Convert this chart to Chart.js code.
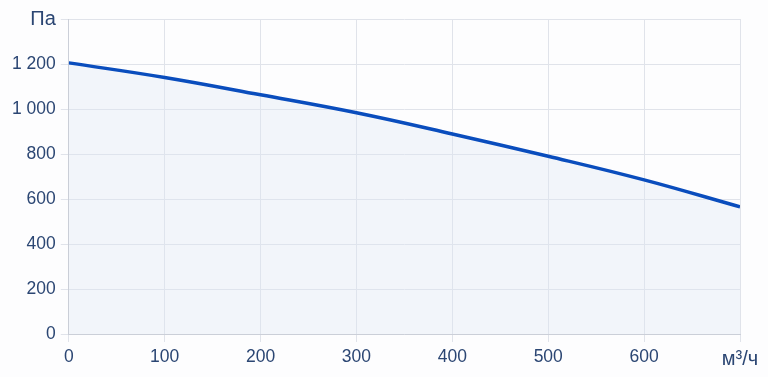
<!DOCTYPE html>
<html>
<head>
<meta charset="utf-8">
<script src="https://cdn.jsdelivr.net/npm/chart.js@4.4.1/dist/chart.umd.min.js"></script>
<style>
  html, body { margin: 0; padding: 0; background: #fdfdfe; }
  #wrap { width: 768px; height: 377px; }
</style>
</head>
<body>
<div id="wrap"><canvas id="fanChart"></canvas></div>
<script>
// Airflow (m3/h) vs pressure (Pa)
const flow = [0, 100, 200, 300, 400, 500, 600, 700];
const pressure = [1205, 1140, 1063, 983, 889, 790, 685, 565];
const xUnit = "м³/ч";
const yUnit = "Па";
const xMax = 700;
const yMax = 1400;

const textColor = "#2b4673";
const gridColor = "#e0e3ea";
const family = "Liberation Sans, Arial, sans-serif";

// "1 200" style numbers
function fmt(v) {
  return String(v).replace(/\B(?=(\d{3})+(?!\d))/g, " ");
}

// unit label sits on the last tick and is drawn a bit bigger
function tickFont(max) {
  return ctx => ({ family: family, size: ctx.tick && ctx.tick.value === max ? 20 : 17.5 });
}

const points = flow.map((f, i) => ({ x: f, y: pressure[i] }));

new Chart(document.getElementById("fanChart"), {
  type: "line",
  data: {
    datasets: [{
      data: points,
      borderColor: "#0a4dbd",
      borderWidth: 3.5,
      backgroundColor: "rgba(222, 230, 244, 0.35)",
      fill: "origin",
      pointRadius: 0,
      tension: 0.4
    }]
  },
  options: {
    responsive: true,
    maintainAspectRatio: false,
    animation: false,
    layout: { padding: { top: 19, right: 28, bottom: 1, left: 7 } },
    plugins: { legend: { display: false }, tooltip: { enabled: false } },
    scales: {
      x: {
        type: "linear",
        min: 0,
        max: xMax,
        ticks: {
          stepSize: 100,
          color: textColor,
          font: tickFont(xMax),
          padding: 5,
          maxRotation: 0,
          callback: v => v === xMax ? xUnit : fmt(v)
        },
        grid: { color: gridColor, tickLength: 8 },
        border: { color: "#cbcfd8" }
      },
      y: {
        min: 0,
        max: yMax,
        ticks: {
          stepSize: 200,
          color: textColor,
          font: tickFont(yMax),
          padding: 5,
          callback: v => v === yMax ? yUnit : fmt(v)
        },
        grid: { color: gridColor, tickLength: 8 },
        border: { color: "#cbcfd8" }
      }
    }
  }
});
</script>
</body>
</html>
